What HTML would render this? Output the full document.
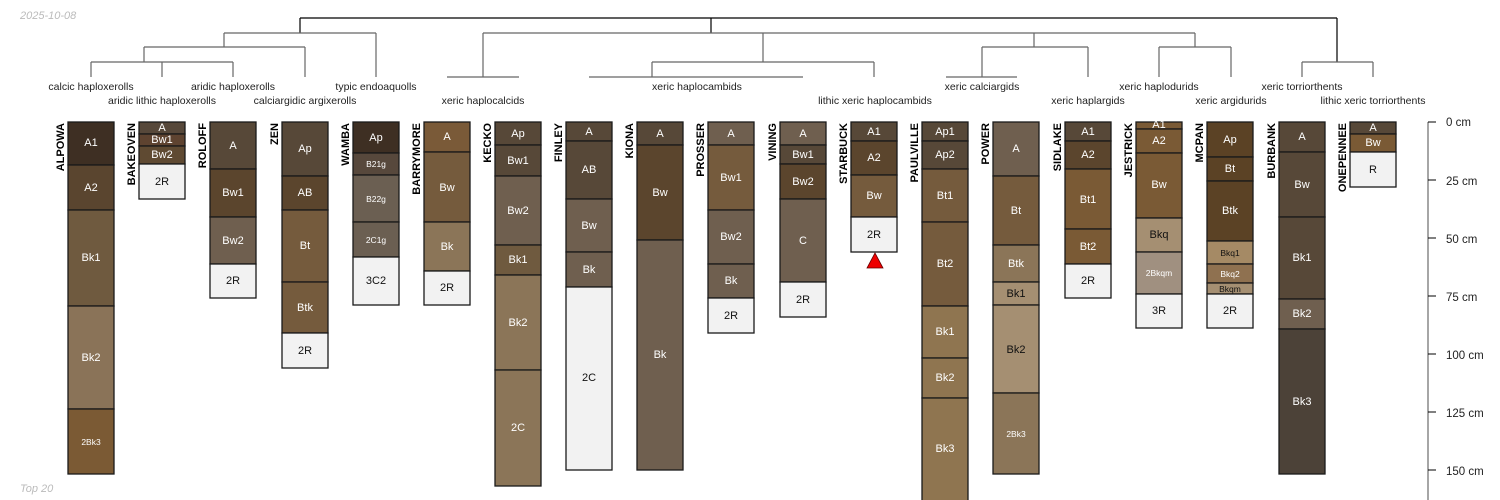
<!DOCTYPE html>
<html><head><meta charset="utf-8"><style>
html,body{margin:0;padding:0;background:#fff}
svg{display:block}
text{font-family:"Liberation Sans",sans-serif}
.h rect{stroke:#1a1a1a;stroke-width:1.3}
.h text{font-size:11px;fill:#fff;text-anchor:middle;dominant-baseline:central}
.h text.s{font-size:8.5px}
.h text.d{fill:#111}
.n{font-size:11px;font-weight:bold;fill:#000;text-anchor:end}
.t{font-size:10.5px;fill:#222;text-anchor:middle}
.d1{stroke:#000;stroke-width:1.2;fill:none}
.d2{stroke:#666;stroke-width:1.2;fill:none}
</style></head><body>
<svg width="1500" height="500" xmlns="http://www.w3.org/2000/svg">
<text x="20" y="19" font-size="11" font-style="italic" fill="#bbb">2025-10-08</text>
<text x="20" y="492" font-size="11" font-style="italic" fill="#bbb">Top 20</text>

<path class="d1" d="M300,18H1337M300,18V33M711,18V33M1337,18V62"/>
<path class="d2" d="M224,33H376M483,33H1195M224,33V47M376,33V77M483,33V77M763,33V62M1034,33V47M1195,33V47
M144,47H305M982,47H1088M1159,47H1231M144,47V62M305,47V77M982,47V77M1088,47V77M1159,47V77M1231,47V77
M91,62H233M652,62H874M1302,62H1373M91,62V77M162,62V77M233,62V77M652,62V77M874,62V77M1302,62V77M1373,62V77
M447,77H519M589,77H803M946,77H1017"/>

<g class="t">
<text x="91" y="90">calcic haploxerolls</text>
<text x="233" y="90">aridic haploxerolls</text>
<text x="376" y="90">typic endoaquolls</text>
<text x="697" y="90">xeric haplocambids</text>
<text x="982" y="90">xeric calciargids</text>
<text x="1159" y="90">xeric haplodurids</text>
<text x="1302" y="90">xeric torriorthents</text>
<text x="162" y="104">aridic lithic haploxerolls</text>
<text x="305" y="104">calciargidic argixerolls</text>
<text x="483" y="104">xeric haplocalcids</text>
<text x="875" y="104">lithic xeric haplocambids</text>
<text x="1088" y="104">xeric haplargids</text>
<text x="1231" y="104">xeric argidurids</text>
<text x="1373" y="104">lithic xeric torriorthents</text>
</g>

<g class="n">
<text transform="translate(64,123) rotate(-90)">ALPOWA</text>
<text transform="translate(135,123) rotate(-90)">BAKEOVEN</text>
<text transform="translate(206,123) rotate(-90)">ROLOFF</text>
<text transform="translate(278,123) rotate(-90)">ZEN</text>
<text transform="translate(349,123) rotate(-90)">WAMBA</text>
<text transform="translate(420,123) rotate(-90)">BARRYMORE</text>
<text transform="translate(491,123) rotate(-90)">KECKO</text>
<text transform="translate(562,123) rotate(-90)">FINLEY</text>
<text transform="translate(633,123) rotate(-90)">KIONA</text>
<text transform="translate(704,123) rotate(-90)">PROSSER</text>
<text transform="translate(776,123) rotate(-90)">VINING</text>
<text transform="translate(847,123) rotate(-90)">STARBUCK</text>
<text transform="translate(918,123) rotate(-90)">PAULVILLE</text>
<text transform="translate(989,123) rotate(-90)">POWER</text>
<text transform="translate(1061,123) rotate(-90)">SIDLAKE</text>
<text transform="translate(1132,123) rotate(-90)">JESTRICK</text>
<text transform="translate(1203,123) rotate(-90)">MCPAN</text>
<text transform="translate(1275,123) rotate(-90)">BURBANK</text>
<text transform="translate(1346,123) rotate(-90)">ONEPENNEE</text>
</g>

<g class="h">
<rect x="68" y="122" width="46" height="43" fill="#3e2f23"/><text x="91" y="143">A1</text>
<rect x="68" y="165" width="46" height="45" fill="#5a452f"/><text x="91" y="188">A2</text>
<rect x="68" y="210" width="46" height="96" fill="#6f5a3f"/><text x="91" y="258">Bk1</text>
<rect x="68" y="306" width="46" height="103" fill="#8a7358"/><text x="91" y="358">Bk2</text>
<rect x="68" y="409" width="46" height="65" fill="#7b5a34"/><text class="s" x="91" y="442">2Bk3</text>
<rect x="139" y="122" width="46" height="12" fill="#57483a"/><text x="162" y="128">A</text>
<rect x="139" y="134" width="46" height="12" fill="#5e4330"/><text x="162" y="140">Bw1</text>
<rect x="139" y="146" width="46" height="18" fill="#5f4a32"/><text x="162" y="155">Bw2</text>
<rect x="139" y="164" width="46" height="35" fill="#f2f2f2"/><text class="d" x="162" y="182">2R</text>
<rect x="210" y="122" width="46" height="47" fill="#574838"/><text x="233" y="146">A</text>
<rect x="210" y="169" width="46" height="48" fill="#5b452d"/><text x="233" y="193">Bw1</text>
<rect x="210" y="217" width="46" height="47" fill="#6f5f4f"/><text x="233" y="241">Bw2</text>
<rect x="210" y="264" width="46" height="34" fill="#f2f2f2"/><text class="d" x="233" y="281">2R</text>
<rect x="282" y="122" width="46" height="54" fill="#574838"/><text x="305" y="149">Ap</text>
<rect x="282" y="176" width="46" height="34" fill="#5b452d"/><text x="305" y="193">AB</text>
<rect x="282" y="210" width="46" height="72" fill="#755b3d"/><text x="305" y="246">Bt</text>
<rect x="282" y="282" width="46" height="51" fill="#755b3d"/><text x="305" y="308">Btk</text>
<rect x="282" y="333" width="46" height="35" fill="#f2f2f2"/><text class="d" x="305" y="351">2R</text>
<rect x="353" y="122" width="46" height="31" fill="#3e2f23"/><text x="376" y="138">Ap</text>
<rect x="353" y="153" width="46" height="22" fill="#57483c"/><text class="s" x="376" y="164">B21g</text>
<rect x="353" y="175" width="46" height="47" fill="#6b5f52"/><text class="s" x="376" y="199">B22g</text>
<rect x="353" y="222" width="46" height="35" fill="#6b5f52"/><text class="s" x="376" y="240">2C1g</text>
<rect x="353" y="257" width="46" height="48" fill="#f2f2f2"/><text class="d" x="376" y="281">3C2</text>
<rect x="424" y="122" width="46" height="30" fill="#7a5a38"/><text x="447" y="137">A</text>
<rect x="424" y="152" width="46" height="70" fill="#755b3d"/><text x="447" y="188">Bw</text>
<rect x="424" y="222" width="46" height="49" fill="#8b7558"/><text x="447" y="247">Bk</text>
<rect x="424" y="271" width="46" height="34" fill="#f2f2f2"/><text class="d" x="447" y="288">2R</text>
<rect x="495" y="122" width="46" height="23" fill="#574838"/><text x="518" y="134">Ap</text>
<rect x="495" y="145" width="46" height="31" fill="#574838"/><text x="518" y="161">Bw1</text>
<rect x="495" y="176" width="46" height="69" fill="#6f5f4f"/><text x="518" y="211">Bw2</text>
<rect x="495" y="245" width="46" height="30" fill="#6f5a3f"/><text x="518" y="260">Bk1</text>
<rect x="495" y="275" width="46" height="95" fill="#8b7558"/><text x="518" y="323">Bk2</text>
<rect x="495" y="370" width="46" height="116" fill="#8b7558"/><text x="518" y="428">2C</text>
<rect x="566" y="122" width="46" height="19" fill="#574838"/><text x="589" y="132">A</text>
<rect x="566" y="141" width="46" height="58" fill="#574838"/><text x="589" y="170">AB</text>
<rect x="566" y="199" width="46" height="53" fill="#6f5f4f"/><text x="589" y="226">Bw</text>
<rect x="566" y="252" width="46" height="35" fill="#6f5f4f"/><text x="589" y="270">Bk</text>
<rect x="566" y="287" width="46" height="183" fill="#f2f2f2"/><text class="d" x="589" y="378">2C</text>
<rect x="637" y="122" width="46" height="23" fill="#574838"/><text x="660" y="134">A</text>
<rect x="637" y="145" width="46" height="95" fill="#5b452d"/><text x="660" y="193">Bw</text>
<rect x="637" y="240" width="46" height="230" fill="#6f5f4f"/><text x="660" y="355">Bk</text>
<rect x="708" y="122" width="46" height="23" fill="#6f5f4f"/><text x="731" y="134">A</text>
<rect x="708" y="145" width="46" height="65" fill="#755b3d"/><text x="731" y="178">Bw1</text>
<rect x="708" y="210" width="46" height="54" fill="#6f5f4f"/><text x="731" y="237">Bw2</text>
<rect x="708" y="264" width="46" height="34" fill="#6f5f4f"/><text x="731" y="281">Bk</text>
<rect x="708" y="298" width="46" height="35" fill="#f2f2f2"/><text class="d" x="731" y="316">2R</text>
<rect x="780" y="122" width="46" height="23" fill="#6f5f4f"/><text x="803" y="134">A</text>
<rect x="780" y="145" width="46" height="19" fill="#574838"/><text x="803" y="155">Bw1</text>
<rect x="780" y="164" width="46" height="35" fill="#5b452d"/><text x="803" y="182">Bw2</text>
<rect x="780" y="199" width="46" height="83" fill="#6f5f4f"/><text x="803" y="241">C</text>
<rect x="780" y="282" width="46" height="35" fill="#f2f2f2"/><text class="d" x="803" y="300">2R</text>
<rect x="851" y="122" width="46" height="19" fill="#574838"/><text x="874" y="132">A1</text>
<rect x="851" y="141" width="46" height="34" fill="#5b452d"/><text x="874" y="158">A2</text>
<rect x="851" y="175" width="46" height="42" fill="#755b3d"/><text x="874" y="196">Bw</text>
<rect x="851" y="217" width="46" height="35" fill="#f2f2f2"/><text class="d" x="874" y="235">2R</text>
<rect x="922" y="122" width="46" height="19" fill="#574838"/><text x="945" y="132">Ap1</text>
<rect x="922" y="141" width="46" height="28" fill="#574838"/><text x="945" y="155">Ap2</text>
<rect x="922" y="169" width="46" height="53" fill="#755b3d"/><text x="945" y="196">Bt1</text>
<rect x="922" y="222" width="46" height="84" fill="#755b3d"/><text x="945" y="264">Bt2</text>
<rect x="922" y="306" width="46" height="52" fill="#8f7550"/><text x="945" y="332">Bk1</text>
<rect x="922" y="358" width="46" height="40" fill="#8f7550"/><text x="945" y="378">Bk2</text>
<rect x="922" y="398" width="46" height="110" fill="#8f7550"/><text x="945" y="449">Bk3</text>
<rect x="993" y="122" width="46" height="54" fill="#6f5f4f"/><text x="1016" y="149">A</text>
<rect x="993" y="176" width="46" height="69" fill="#755b3d"/><text x="1016" y="211">Bt</text>
<rect x="993" y="245" width="46" height="37" fill="#8b7558"/><text x="1016" y="264">Btk</text>
<rect x="993" y="282" width="46" height="23" fill="#a58f72"/><text class="d" x="1016" y="294">Bk1</text>
<rect x="993" y="305" width="46" height="88" fill="#a58f72"/><text class="d" x="1016" y="350">Bk2</text>
<rect x="993" y="393" width="46" height="81" fill="#8b7558"/><text class="s" x="1016" y="434">2Bk3</text>
<rect x="1065" y="122" width="46" height="19" fill="#574838"/><text x="1088" y="132">A1</text>
<rect x="1065" y="141" width="46" height="28" fill="#5b452d"/><text x="1088" y="155">A2</text>
<rect x="1065" y="169" width="46" height="60" fill="#7a5a35"/><text x="1088" y="200">Bt1</text>
<rect x="1065" y="229" width="46" height="35" fill="#7a5a35"/><text x="1088" y="247">Bt2</text>
<rect x="1065" y="264" width="46" height="34" fill="#f2f2f2"/><text class="d" x="1088" y="281">2R</text>
<rect x="1136" y="122" width="46" height="7" fill="#7a5a35"/><text x="1159" y="125">A1</text>
<rect x="1136" y="129" width="46" height="24" fill="#7a5a35"/><text x="1159" y="141">A2</text>
<rect x="1136" y="153" width="46" height="65" fill="#7a5a35"/><text x="1159" y="185">Bw</text>
<rect x="1136" y="218" width="46" height="34" fill="#a58f72"/><text class="d" x="1159" y="235">Bkq</text>
<rect x="1136" y="252" width="46" height="42" fill="#a09080"/><text class="s" x="1159" y="273">2Bkqm</text>
<rect x="1136" y="294" width="46" height="34" fill="#f2f2f2"/><text class="d" x="1159" y="311">3R</text>
<rect x="1207" y="122" width="46" height="35" fill="#5b4225"/><text x="1230" y="140">Ap</text>
<rect x="1207" y="157" width="46" height="24" fill="#5b4225"/><text x="1230" y="169">Bt</text>
<rect x="1207" y="181" width="46" height="60" fill="#5b4225"/><text x="1230" y="211">Btk</text>
<rect x="1207" y="241" width="46" height="23" fill="#a58a65"/><text class="s d" x="1230" y="253">Bkq1</text>
<rect x="1207" y="264" width="46" height="19" fill="#8f7150"/><text class="s" x="1230" y="274">Bkq2</text>
<rect x="1207" y="283" width="46" height="11" fill="#a58f72"/><text class="s d" x="1230" y="289">Bkqm</text>
<rect x="1207" y="294" width="46" height="34" fill="#f2f2f2"/><text class="d" x="1230" y="311">2R</text>
<rect x="1279" y="122" width="46" height="30" fill="#574838"/><text x="1302" y="137">A</text>
<rect x="1279" y="152" width="46" height="65" fill="#574838"/><text x="1302" y="185">Bw</text>
<rect x="1279" y="217" width="46" height="82" fill="#574838"/><text x="1302" y="258">Bk1</text>
<rect x="1279" y="299" width="46" height="30" fill="#6f5f4f"/><text x="1302" y="314">Bk2</text>
<rect x="1279" y="329" width="46" height="145" fill="#4c4238"/><text x="1302" y="402">Bk3</text>
<rect x="1350" y="122" width="46" height="12" fill="#574838"/><text x="1373" y="128">A</text>
<rect x="1350" y="134" width="46" height="18" fill="#7a5a35"/><text x="1373" y="143">Bw</text>
<rect x="1350" y="152" width="46" height="35" fill="#f2f2f2"/><text class="d" x="1373" y="170">R</text>
</g>

<polygon points="875,253 867,268 883,268" fill="#ee0000" stroke="#600" stroke-width="0.8"/>

<path d="M1428,122V500" stroke="#888" stroke-width="1.5" fill="none"/>
<path d="M1428,122H1436M1428,180H1436M1428,238H1436M1428,296H1436M1428,354H1436M1428,412H1436M1428,470H1436" stroke="#000" stroke-width="1" fill="none"/>
<g font-size="11.5" fill="#222">
<text x="1446" y="126">0 cm</text>
<text x="1446" y="185">25 cm</text>
<text x="1446" y="243">50 cm</text>
<text x="1446" y="301">75 cm</text>
<text x="1446" y="359">100 cm</text>
<text x="1446" y="417">125 cm</text>
<text x="1446" y="475">150 cm</text>
</g>
</svg>
</body></html>
